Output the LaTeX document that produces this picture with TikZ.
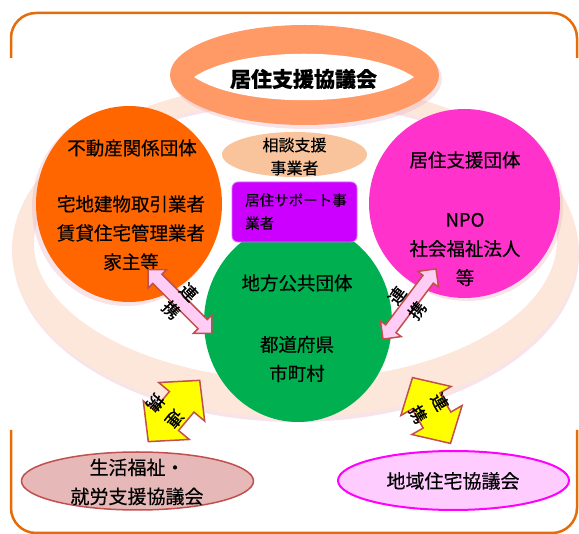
\documentclass[tikz,border=0pt]{standalone}
\usepackage{fontspec}
\newfontfamily\jp[FakeBold=0.4]{Noto Sans CJK JP}
\newfontfamily\jplink[FakeBold=1.2]{Noto Sans CJK JP}
\usetikzlibrary{shapes.geometric}
\definecolor{frameor}{HTML}{E46C0A}
\definecolor{ringpeach}{HTML}{FCE7DA}
\definecolor{toporange}{HTML}{FF9966}
\definecolor{orangeC}{HTML}{FF6600}
\definecolor{magentaC}{HTML}{FF33CC}
\definecolor{greenC}{HTML}{00B050}
\definecolor{peachC}{HTML}{F9C49C}
\definecolor{purpleC}{HTML}{CC00FF}
\definecolor{pinkarrow}{HTML}{FFCCF5}
\definecolor{arrowedge}{HTML}{C0504D}
\definecolor{yellowC}{HTML}{FFFF00}
\definecolor{welfarefill}{HTML}{E6B9B8}
\definecolor{welfareedge}{HTML}{C0504D}
\definecolor{housingfill}{HTML}{FFCCFF}
\definecolor{housingedge}{HTML}{FF00FF}
\definecolor{shadowpink}{HTML}{E8A6B4}
\newcommand\blockarrow[7]{\filldraw[#1, shift={#2}, rotate=#3] (-#4,0) -- (-#4+#5,#6) -- (-#4+#5,#7) -- (#4-#5,#7) -- (#4-#5,#6) -- (#4,0) -- (#4-#5,-#6) -- (#4-#5,-#7) -- (-#4+#5,-#7) -- (-#4+#5,-#6) -- cycle;}
\begin{document}
\begin{tikzpicture}[x=1pt,y=-1pt,
  frame/.style={draw=frameor, line width=2.5pt, rounded corners=25pt},
  blob/.style={ellipse, inner sep=0pt},
  jtext/.style={font=\jp\fontsize{18.5}{29}\selectfont, align=center, inner sep=0pt},
  smalltext/.style={font=\jp\fontsize{16}{23}\selectfont, align=center, inner sep=0pt},
  tinytext/.style={font=\jp\fontsize{14.5}{23}\selectfont, align=left, inner sep=0pt},
  bottomtext/.style={font=\jp\fontsize{19}{29}\selectfont, align=center, inner sep=0pt},
  linktext/.style={font=\jplink\fontsize{17}{25}\selectfont, align=center, inner sep=0pt},
  pinkarr/.style={fill=pinkarrow, draw=arrowedge, line width=1.5pt, line join=miter},
  yellowarr/.style={fill=yellowC, draw=arrowedge, line width=1.5pt, line join=miter}]
\useasboundingbox (0,0) rectangle (579,534);
% outer frame (visible parts)
\draw[frame] (11,58) -- (11,13) -- (577,13) -- (577,58);
\draw[frame] (11,430) -- (11,533) -- (577,533) -- (577,430);
% big ring with soft shadow
\fill[shadowpink, opacity=.3, even odd rule] (296,254) ellipse[x radius=283, y radius=168] (296,244) ellipse[x radius=262, y radius=140];
\fill[ringpeach, even odd rule] (295,250) ellipse[x radius=283, y radius=168] (295,240) ellipse[x radius=262, y radius=140];
% top council ring
\fill[shadowpink, opacity=.3] (307,79) ellipse[x radius=135, y radius=50];
\node[blob, fill=toporange, minimum width=269pt, minimum height=100pt] (council) at (304.5,75) {};
\fill[white] (194,77) .. controls (240,46) and (368,46) .. (414,77) .. controls (368,108) and (240,108) .. (194,77) -- cycle;
\node[font=\jp\bfseries\fontsize{21}{21}\selectfont, inner sep=0pt] (title) at (303.5,79) {居住支援協議会};
% circles
\fill[shadowpink, opacity=.3] (126,207) ellipse[x radius=94, y radius=99];
\node[blob, fill=orangeC, minimum width=186pt, minimum height=196pt] (realestate) at (129,204) {};
\fill[shadowpink, opacity=.3] (467,206) ellipse[x radius=96, y radius=95];
\node[blob, fill=magentaC, minimum width=191pt, minimum height=189pt] (support) at (464.5,203.5) {};
\node[blob, fill=peachC, minimum width=145pt, minimum height=45pt] (consult) at (294.5,154.5) {};
\node[blob, fill=greenC, minimum width=188pt, minimum height=200pt] (local) at (298,322) {};
\node[fill=purpleC, draw=purpleC!60!white, line width=0.8pt, rounded corners=6pt, minimum width=125pt, minimum height=60pt, inner sep=0pt] (housingsupport) at (294.5,212) {};
% texts in circles
\node[jtext] (realestateA) at (132,148) {不動産関係団体};
\node[jtext] (realestateB) at (131,233) {宅地建物取引業者\\賃貸住宅管理業者\\家主等};
\node[jtext] (supportA) at (465,160) {居住支援団体};
\node[jtext] (supportB) at (465,249.5) {NPO\\社会福祉法人\\等};
\node[jtext] (localA) at (297,283) {地方公共団体};
\node[jtext] (localB) at (297,359) {都道府県\\市町村};
\node[smalltext] (consultT) at (294.5,156.5) {相談支援\\事業者};
\node[tinytext, anchor=west] (housingsupportT) at (245,211.5) {居住サポート事\\業者};
% bottom councils
\node[blob, fill=welfarefill, draw=welfareedge, line width=1.5pt, minimum width=232pt, minimum height=58pt] (welfare) at (137.5,481) {};
\node[bottomtext] (welfareT) at (137,482) {生活福祉・\\就労支援協議会};
\node[blob, fill=housingfill, draw=housingedge, line width=2pt, minimum width=231pt, minimum height=59pt] (housing) at (453.5,480.5) {};
\node[bottomtext] (housingT) at (453,481) {地域住宅協議会};
% link arrows
\coordinate (linkA) at (180,301.5);
\coordinate (linkB) at (409.5,304);
\coordinate (linkC) at (174,411);
\coordinate (linkD) at (431.5,410.5);
\blockarrow{pinkarr}{(linkA)}{-45}{45}{13}{13}{6.5}
\blockarrow{pinkarr}{(linkB)}{53}{44}{13}{13}{6.5}
\blockarrow{yellowarr}{(linkC)}{50}{40}{28}{30}{16}
\blockarrow{yellowarr}{(linkD)}{-60}{38}{27}{29}{16}
\node[linktext, rotate=-45] (linkAT) at (180,301) {連\\携};
\node[linktext, rotate=53] (linkBT) at (407,303) {連\\携};
\node[linktext, rotate=-130] (linkCT) at (165,411) {連\\携};
\node[linktext, rotate=-60] (linkDT) at (429,408) {連\\携};
\end{tikzpicture}
\end{document}
